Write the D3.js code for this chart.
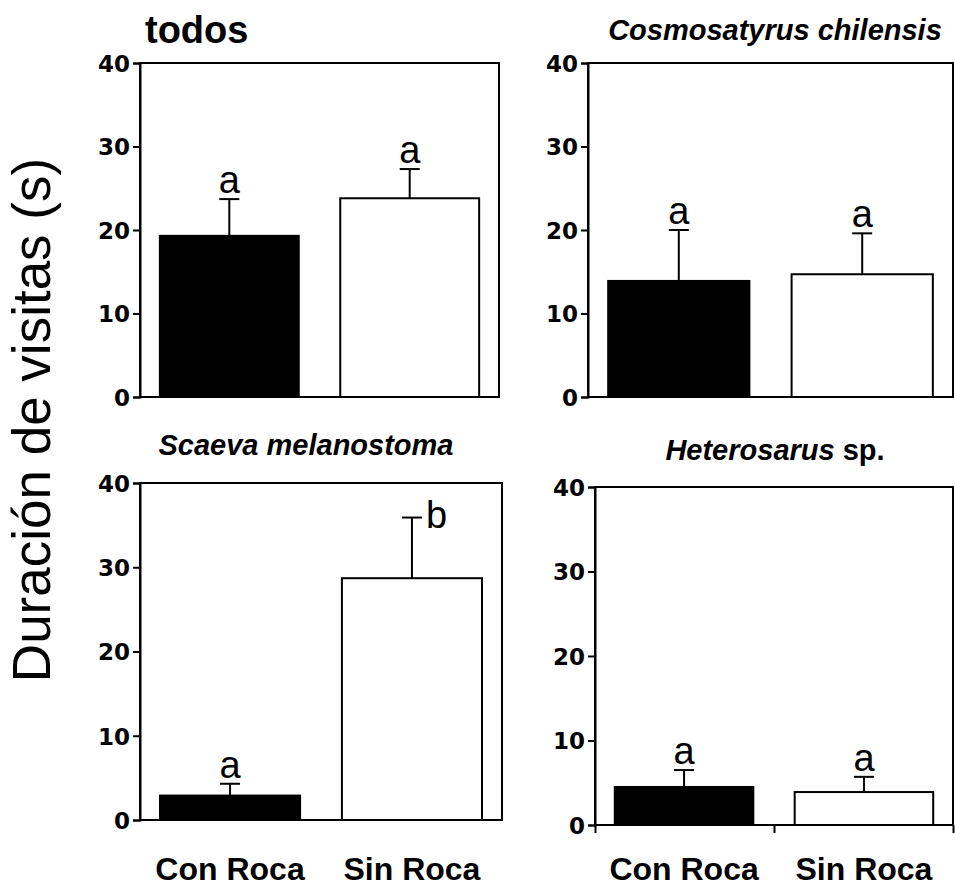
<!DOCTYPE html>
<html>
<head>
<meta charset="utf-8">
<script src="https://cdn.jsdelivr.net/npm/d3@7"></script>
<style>
  body { margin: 0; background: #fff; }
  svg { display: block; }
  .tick text { font-family: "DejaVu Sans", sans-serif; }
</style>
</head>
<body>
<svg></svg>
<script>
// data
var panelTitles = ["todos", "Cosmosatyrus chilensis", "Scaeva melanostoma", "Heterosarus sp."];
var categories = ["Con Roca", "Sin Roca"];
var means = [[19.3, 23.8], [13.9, 14.7], [2.9, 28.7], [4.5, 3.9]];
var upperErr = [[23.7, 27.3], [20.0, 19.6], [4.3, 35.9], [6.5, 5.7]];
var sigLetters = [["a", "a"], ["a", "a"], ["a", "b"], ["a", "a"]];
var yTicks = [0, 10, 20, 30, 40];

// layout of each panel (pixels)
var layout = [
    {x0: 140, x1: 499, y0: 63, y1: 397, tx: 145, ty: 43, anchor: "start", xlab: false, xticks: false},
    {x0: 588, x1: 953, y0: 63, y1: 397, tx: 775, ty: 40, anchor: "middle", xlab: false, xticks: false},
    {x0: 140, x1: 502, y0: 483, y1: 820, tx: 306, ty: 455, anchor: "middle", xlab: true, xticks: false},
    {x0: 595, x1: 953, y0: 487, y1: 825, tx: 775, ty: 460, anchor: "middle", xlab: true, xticks: true}
];

var svg = d3.select("svg")
    .attr("width", 955)
    .attr("height", 888);

// big y axis title
svg.append("text")
    .attr("transform", "translate(50,420) rotate(-90)")
    .attr("text-anchor", "middle")
    .style("font-family", "'Liberation Sans', Arial, sans-serif")
    .style("font-size", "53px")
    .text("Duración de visitas (s)");

function drawPanel(i) {
    var L = layout[i];
    var g = svg.append("g");

    var x = d3.scaleBand()
        .domain(categories)
        .range([L.x0, L.x1])
        .paddingInner(0.23)
        .paddingOuter(0.11);
    var y = d3.scaleLinear().domain([0, 40]).range([L.y1, L.y0]);

    var rows = categories.map(function (c, j) {
        return {cat: c, mean: means[i][j], err: upperErr[i][j], letter: sigLetters[i][j], j: j};
    });

    // error bars (upper only)
    g.append("g").selectAll("line")
        .data(rows)
        .enter()
        .append("line")
        .attr("x1", d => x(d.cat) + x.bandwidth() / 2)
        .attr("x2", d => x(d.cat) + x.bandwidth() / 2)
        .attr("y1", d => y(d.mean))
        .attr("y2", d => y(d.err))
        .attr("stroke", "#000")
        .attr("stroke-width", 2);

    g.append("g").selectAll("line")
        .data(rows)
        .enter()
        .append("line")
        .attr("x1", d => x(d.cat) + x.bandwidth() / 2 - 10)
        .attr("x2", d => x(d.cat) + x.bandwidth() / 2 + 10)
        .attr("y1", d => y(d.err))
        .attr("y2", d => y(d.err))
        .attr("stroke", "#000")
        .attr("stroke-width", 2);

    // bars
    g.append("g").selectAll("rect")
        .data(rows)
        .enter()
        .append("rect")
        .attr("x", d => x(d.cat))
        .attr("y", d => y(d.mean))
        .attr("width", x.bandwidth())
        .attr("height", d => y(0) - y(d.mean))
        .attr("fill", d => d.j == 0 ? "#000" : "#fff")
        .attr("stroke", "#000")
        .attr("stroke-width", 2);

    // letters above error bars ("b" sits to the right of its cap)
    g.append("g").selectAll("text")
        .data(rows)
        .enter()
        .append("text")
        .attr("x", d => x(d.cat) + x.bandwidth() / 2 + (d.letter == "b" ? 14 : 0))
        .attr("y", d => d.letter == "b" ? y(d.err) + 10 : y(d.err) - 6)
        .attr("text-anchor", d => d.letter == "b" ? "start" : "middle")
        .style("font-family", "'Liberation Sans', Arial, sans-serif")
        .style("font-size", "38px")
        .text(d => d.letter);

    // frame
    g.append("rect")
        .attr("x", L.x0)
        .attr("y", L.y0)
        .attr("width", L.x1 - L.x0)
        .attr("height", L.y1 - L.y0)
        .attr("fill", "none")
        .attr("stroke", "#000")
        .attr("stroke-width", 2);

    // y axis
    var ax = g.append("g")
        .attr("transform", "translate(" + L.x0 + ",0)")
        .call(d3.axisLeft(y).tickValues(yTicks).tickSize(7).tickPadding(3));
    ax.select(".domain").attr("stroke-width", 2);
    ax.selectAll(".tick line").attr("stroke-width", 2);
    ax.selectAll(".tick text")
        .style("font-size", "23px")
        .style("font-weight", "bold")
        .attr("dy", "0.36em");

    if (L.xticks) {
        var xs = d3.scaleLinear().domain([0, 1]).range([L.x0, L.x1]);
        var bx = g.append("g")
            .attr("transform", "translate(0," + L.y1 + ")")
            .call(d3.axisBottom(xs).tickValues([0, 0.5, 1]).tickSize(8).tickFormat(""));
        bx.select(".domain").remove();
        bx.selectAll(".tick line").attr("stroke-width", 2);
    }

    if (L.xlab) {
        g.append("g").selectAll("text")
            .data(rows)
            .enter()
            .append("text")
            .attr("x", d => x(d.cat) + x.bandwidth() / 2)
            .attr("y", 880)
            .attr("text-anchor", "middle")
            .style("font-family", "'Liberation Sans', Arial, sans-serif")
            .style("font-size", "32px")
            .style("font-weight", "bold")
            .text(d => d.cat);
    }

    // panel title
    var t = g.append("text")
        .attr("x", L.tx)
        .attr("y", L.ty)
        .attr("text-anchor", L.anchor)
        .style("font-family", "'Liberation Sans', Arial, sans-serif")
        .style("font-weight", "bold");
    if (i == 0) {
        t.style("font-size", "38px").text(panelTitles[i]);
    } else if (panelTitles[i].endsWith(" sp.")) {
        t.style("font-size", "29px");
        t.append("tspan").style("font-style", "italic").text(panelTitles[i].replace(" sp.", ""));
        t.append("tspan").text(" sp.");
    } else {
        t.style("font-size", "29px").style("font-style", "italic").text(panelTitles[i]);
    }
}

for (var i = 0; i < layout.length; i++) {
    drawPanel(i);
}
</script>
</body>
</html>
